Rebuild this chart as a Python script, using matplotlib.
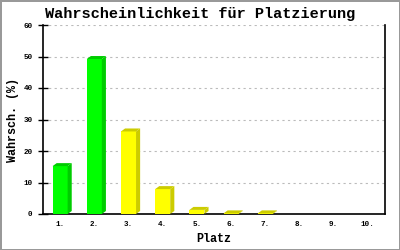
import matplotlib
matplotlib.use("Agg")
import matplotlib.pyplot as plt
from matplotlib.patches import Polygon

places = ["1.", "2.", "3.", "4.", "5.", "6.", "7.", "8.", "9.", "10."]
probs = [15.2, 49.2, 26.2, 7.9, 1.3, 0.2, 0.2, 0, 0, 0]
front_colors = ["#00FF00", "#00FF00", "#FFFF00", "#FFFF00", "#FFFF00",
                "#FFFF00", "#FFFF00", "#FFFF00", "#FFFF00", "#FFFF00"]
shade_colors = ["#00CC00", "#00CC00", "#CCCC00", "#CCCC00", "#CCCC00",
                "#CCCC00", "#CCCC00", "#CCCC00", "#CCCC00", "#CCCC00"]

mono = "Liberation Mono"

fig = plt.figure(figsize=(4, 2.5), dpi=100)
fig.patch.set_facecolor("white")
fig.patch.set_edgecolor("#999999")
fig.patch.set_linewidth(2)
ax = fig.add_axes([0.1075, 0.144, 0.855, 0.756])

width = 0.44
dx, dy = 0.12, 0.95
xs = list(range(len(places)))
ax.bar(xs, probs, width=width, color=front_colors, zorder=3, linewidth=0)
for x, v, sc in zip(xs, probs, shade_colors):
    if v <= 0:
        continue
    x0 = x - width / 2
    x1 = x + width / 2
    side = Polygon([(x1, 0), (x1 + dx, dy), (x1 + dx, v + dy), (x1, v)],
                   closed=True, facecolor=sc, edgecolor="none", zorder=3)
    top = Polygon([(x0, v), (x0 + dx, v + dy), (x1 + dx, v + dy), (x1, v)],
                  closed=True, facecolor=sc, edgecolor="none", zorder=3)
    ax.add_patch(side)
    ax.add_patch(top)

ax.set_xlim(-0.5, len(places) - 0.5)
ax.set_ylim(0, 60)
ax.set_yticks(range(0, 61, 10))
ax.set_xticks(xs)
ax.set_xticklabels(places)
ax.yaxis.grid(True, linestyle=(0, (2, 3)), color="#BBBBBB", linewidth=0.8, zorder=0)
ax.set_axisbelow(True)

for side_name in ["left", "bottom", "right"]:
    ax.spines[side_name].set_color("black")
    ax.spines[side_name].set_linewidth(1.2)
ax.spines["top"].set_visible(False)

ax.tick_params(axis="y", direction="inout", length=7, width=1, pad=4,
               labelsize=5.5)
ax.tick_params(axis="x", length=0, pad=5, labelsize=5.5)
for lbl in ax.get_xticklabels() + ax.get_yticklabels():
    lbl.set_family(mono)
    lbl.set_fontweight("bold")

ax.set_title("Wahrscheinlichkeit für Platzierung", family=mono, fontweight="bold",
             fontsize=11, pad=5, x=0.46)
ax.set_xlabel("Platz", family=mono, fontweight="bold", fontsize=8.5, labelpad=4)
ax.set_ylabel("Wahrsch. (%)", family=mono, fontweight="bold", fontsize=8.5, labelpad=3)

fig.savefig("out.png", dpi=100)
